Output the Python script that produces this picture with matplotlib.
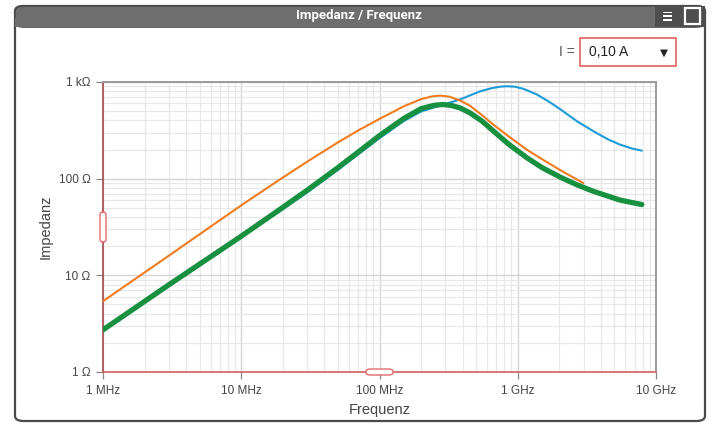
import matplotlib
matplotlib.use("Agg")
import matplotlib.pyplot as plt
from matplotlib.patches import FancyBboxPatch, Rectangle
from matplotlib.ticker import FixedLocator, NullFormatter, LogLocator

# Frequency (Hz) and impedance (Ohm) for each current setting
freq_orange = [1e6, 3e6, 10e6, 19e6, 30e6, 50e6, 70e6, 100e6, 150e6, 200e6, 240e6,
               275e6, 320e6, 382e6, 450e6, 550e6, 665e6, 850e6, 1.16e9, 1.5e9,
               2.02e9, 2.98e9]
imp_orange = [5.4, 16, 53, 98, 150, 237, 315, 415, 561, 665, 710,
              724, 705, 645, 570, 455, 363, 277, 200, 159,
              123, 90]

freq_green = [1e6, 3e6, 10e6, 19e6, 30e6, 50e6, 70e6, 100e6, 150e6, 200e6, 250e6,
              288e6, 330e6, 382e6, 450e6, 550e6, 665e6, 850e6, 1.16e9, 1.5e9,
              2.02e9, 2.7e9, 3.52e9, 5.5e9, 7.9e9]
imp_green = [2.73, 8.0, 25.4, 48, 76, 130, 188, 279, 420, 530, 575,
             585, 572, 540, 480, 395, 312, 230, 165, 130,
             104, 86, 74, 60, 54]

freq_blue = [1e6, 3e6, 10e6, 19e6, 30e6, 50e6, 70e6, 100e6, 150e6, 200e6, 250e6,
             300e6, 382e6, 450e6, 533e6, 650e6, 750e6, 832e6, 950e6, 1.1e9,
             1.37e9, 1.7e9, 2.02e9, 2.7e9, 3.52e9, 4.5e9, 5.5e9, 6.7e9, 7.9e9]
imp_blue = [2.7, 7.9, 25.0, 46, 72, 123, 178, 262, 395, 495, 548,
            592, 660, 725, 800, 865, 895, 904, 895, 850,
            745, 620, 525, 390, 310, 255, 225, 205, 195]

x_ticks = [1e6, 1e7, 1e8, 1e9, 1e10]
x_labels = ["1 MHz", "10 MHz", "100 MHz", "1 GHz", "10 GHz"]
y_ticks = [1, 10, 100, 1000]
y_labels = ["1 Ω", "10 Ω", "100 Ω", "1 kΩ"]

title = "Impedanz / Frequenz"
x_title = "Frequenz"
y_title = "Impedanz"
current_label = "I ="
current_value = "0,10 A"

W, H = 712, 425
fig = plt.figure(figsize=(W / 100, H / 100), dpi=100)
fig.patch.set_facecolor("white")

def fx(px):
    return px / W

def fy(py):
    return 1 - py / H

# Panel frame and title bar
frame = FancyBboxPatch((fx(15), fy(421)), fx(690), fy(6) - fy(421),
                       boxstyle="round,pad=0,rounding_size=0.012",
                       transform=fig.transFigure, facecolor="white",
                       edgecolor="#4a4a4a", linewidth=1.6, zorder=-10)
fig.patches.append(frame)
bar = FancyBboxPatch((fx(15), fy(27)), fx(690), fy(6) - fy(27),
                     boxstyle="round,pad=0,rounding_size=0.012",
                     transform=fig.transFigure, facecolor="#6e6e6e",
                     edgecolor="#4a4a4a", linewidth=1.2, zorder=1)
fig.patches.append(bar)
fig.patches.append(Rectangle((fx(15), fy(27)), fx(690), fy(18) - fy(27),
                             transform=fig.transFigure, facecolor="#6e6e6e",
                             edgecolor="none", zorder=1))
fig.patches.append(Rectangle((fx(655), fy(27)), fx(50), fy(6) - fy(27),
                             transform=fig.transFigure, facecolor="#4e4e4e",
                             edgecolor="none", zorder=2))
# menu icon
for yy in (11.5, 15.5, 19.5):
    fig.patches.append(Rectangle((fx(663), fy(yy + 1.6)), fx(9), fy(yy) - fy(yy + 1.6),
                                 transform=fig.transFigure, facecolor="white",
                                 edgecolor="none", zorder=3))
# maximise icon
fig.patches.append(Rectangle((fx(685), fy(24)), fx(15), fy(8) - fy(24),
                             transform=fig.transFigure, facecolor="none",
                             edgecolor="white", linewidth=1.6, zorder=3))
fig.text(fx(359), fy(16), title, color="white", fontsize=9.5, fontweight="bold",
         ha="center", va="center", family="Roboto", fontstretch="condensed",
         zorder=4)

# Current selector
fig.text(fx(575), fy(52), current_label, color="#555555", fontsize=10,
         ha="right", va="center", family="Liberation Sans")
fig.patches.append(Rectangle((fx(580), fy(66)), fx(96), fy(38) - fy(66),
                             transform=fig.transFigure, facecolor="white",
                             edgecolor="#d9534f", linewidth=1.1, zorder=3))
fig.text(fx(589), fy(52), current_value, color="#222222", fontsize=10,
         ha="left", va="center", family="Liberation Sans", zorder=4)
fig.text(fx(664), fy(53), "▼", color="#222222", fontsize=7.5,
         ha="center", va="center", family="DejaVu Sans", zorder=4)

# Chart area
ax = fig.add_axes([fx(103), fy(372), fx(656) - fx(103), fy(82) - fy(372)])
ax.set_zorder(5)
ax.set_facecolor("white")
ax.set_xscale("log")
ax.set_yscale("log")
ax.set_xlim(1e6, 1e10)
ax.set_ylim(1, 1000)

ax.plot(freq_blue, imp_blue, color="#1b9bd7", linewidth=1.5, zorder=3,
        solid_capstyle="round", solid_joinstyle="round")
ax.plot(freq_orange, imp_orange, color="#f07c1e", linewidth=1.5, zorder=4,
        solid_capstyle="round", solid_joinstyle="round")
ax.plot(freq_green, imp_green, color="#179040", linewidth=3.8, zorder=5,
        solid_capstyle="round", solid_joinstyle="round")

ax.xaxis.set_major_locator(FixedLocator(x_ticks))
ax.yaxis.set_major_locator(FixedLocator(y_ticks))
ax.set_xticklabels(x_labels)
ax.set_yticklabels(y_labels)
ax.xaxis.set_minor_locator(LogLocator(base=10, subs=range(2, 10), numticks=20))
ax.yaxis.set_minor_locator(LogLocator(base=10, subs=range(2, 10), numticks=20))
ax.xaxis.set_minor_formatter(NullFormatter())
ax.yaxis.set_minor_formatter(NullFormatter())

ax.grid(which="major", color="#d6d6d6", linewidth=1.0)
ax.grid(which="minor", color="#e8e8e8", linewidth=0.9)
ax.set_axisbelow(True)

ax.tick_params(which="major", length=5, width=0.9, color="#888888",
               labelsize=8.5, labelcolor="#444444", pad=4)
ax.tick_params(which="minor", length=0)
for lab in ax.get_xticklabels() + ax.get_yticklabels():
    lab.set_family("Liberation Sans")

ax.spines["top"].set_color("#9a9a9a")
ax.spines["top"].set_linewidth(1.4)
ax.spines["right"].set_color("#9a9a9a")
ax.spines["right"].set_linewidth(1.4)
ax.spines["left"].set_color("#a54848")
ax.spines["left"].set_linewidth(1.2)
ax.spines["bottom"].set_color("#d46060")
ax.spines["bottom"].set_linewidth(1.2)

ax.set_xlabel(x_title, fontsize=10.5, color="#444444", family="Liberation Sans",
              labelpad=5)
ax.set_ylabel(y_title, fontsize=10.5, color="#444444", family="Liberation Sans",
              labelpad=4)

# Range handles on the axes
fig.patches.append(FancyBboxPatch((fx(100), fy(242)), fx(6), fy(212) - fy(242),
                                  boxstyle="round,pad=0,rounding_size=0.006",
                                  transform=fig.transFigure, facecolor="white",
                                  edgecolor="#e06a6a", linewidth=1.0, zorder=10))
fig.patches.append(FancyBboxPatch((fx(366), fy(375)), fx(27), fy(369) - fy(375),
                                  boxstyle="round,pad=0,rounding_size=0.006",
                                  transform=fig.transFigure, facecolor="white",
                                  edgecolor="#e06a6a", linewidth=1.0, zorder=10))

fig.savefig("out.png", dpi=100)
